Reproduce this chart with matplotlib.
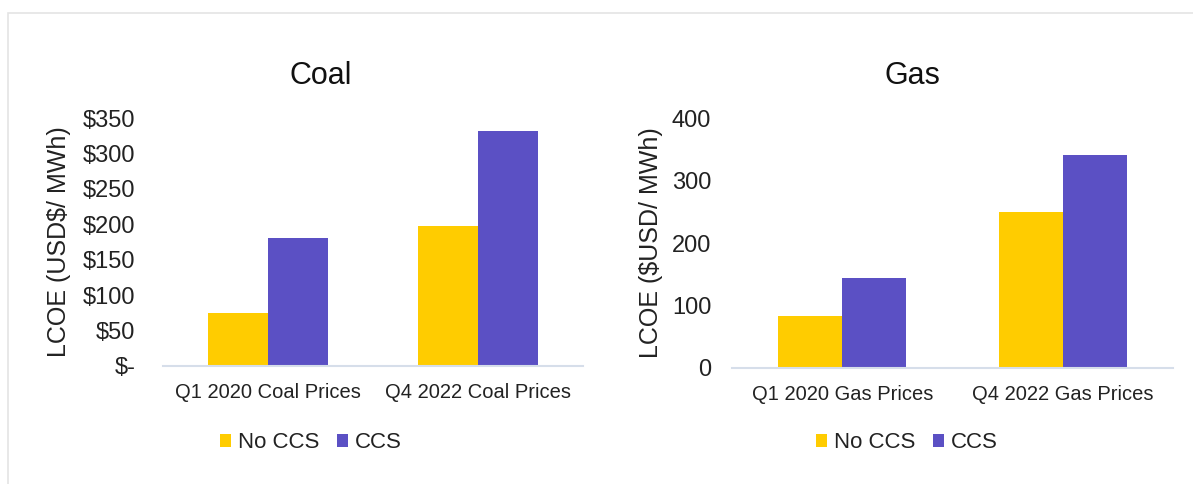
import numpy as np
import matplotlib.pyplot as plt
from matplotlib.patches import Rectangle

plt.rcParams['font.family'] = ['Liberation Sans', 'DejaVu Sans']

series = ['No CCS', 'CCS']
coal_cats = ['Q1 2020 Coal Prices', 'Q4 2022 Coal Prices']
coal_no_ccs = [75, 198]
coal_ccs = [180, 332]
gas_cats = ['Q1 2020 Gas Prices', 'Q4 2022 Gas Prices']
gas_no_ccs = [83, 250]
gas_ccs = [144, 341]
coal_ticks = [0, 50, 100, 150, 200, 250, 300, 350]
coal_tick_labels = ['$-', '$50', '$100', '$150', '$200', '$250', '$300', '$350']
gas_ticks = [0, 100, 200, 300, 400]

yellow = '#FFCC00'
purple = '#5B50C4'
axis_col = '#D6DEEA'
text_col = '#222222'

W, H = 1193, 484
fig = plt.figure(figsize=(W / 100, H / 100), dpi=100)

# light frame like the screenshot
fig.patches.append(Rectangle((8 / W, -0.1), 1.1, 1 - 13 / H + 0.1, transform=fig.transFigure,
                             fill=False, edgecolor='#E4E4E4', linewidth=1.2))


def draw_panel(rect, cats, no_ccs, ccs, ymax, ticks, tick_labels, ylabel, title, bw,
               ypad, ylab_x, title_x, legend_x):
    ax = fig.add_axes(rect)
    x = np.arange(len(cats))
    ax.bar(x - bw / 2, no_ccs, bw, color=yellow, label=series[0], zorder=2)
    ax.bar(x + bw / 2, ccs, bw, color=purple, label=series[1], zorder=2)
    ax.set_xlim(-0.5, len(cats) - 0.5)
    ax.set_ylim(0, ymax)
    ax.set_yticks(ticks)
    ax.set_yticklabels(tick_labels, fontsize=17, color=text_col)
    ax.set_xticks(x)
    ax.set_xticklabels(cats, fontsize=14.5, color=text_col)
    ax.tick_params(length=0, axis='y', pad=ypad)
    ax.tick_params(length=0, axis='x', pad=12)
    for s in ['top', 'right', 'left']:
        ax.spines[s].set_visible(False)
    ax.spines['bottom'].set_color(axis_col)
    ax.spines['bottom'].set_linewidth(1.5)
    ax.set_ylabel(ylabel, fontsize=18, color=text_col)
    ax.yaxis.set_label_coords(ylab_x, 0.5)
    fig.text(title_x / W, 1 - 76 / H, title, fontsize=22, color='#111111',
             ha='center', va='center')
    ax.legend(loc='center', bbox_to_anchor=(legend_x / W, 1 - 443 / H), bbox_transform=fig.transFigure,
              ncol=2, frameon=False, fontsize=16, handlelength=0.5, handleheight=0.5,
              handletextpad=0.3, columnspacing=0.8, labelcolor=text_col)
    return ax


ax1 = draw_panel([163 / W, 1 - 366 / H, 420 / W, (366 - 118) / H], coal_cats, coal_no_ccs, coal_ccs,
                 350, coal_ticks, coal_tick_labels, 'LCOE (USD$/ MWh)', 'Coal', 0.286,
                 20, -0.219, 321, 311)
ax2 = draw_panel([732 / W, 1 - 368 / H, 441 / W, (368 - 118) / H], gas_cats, gas_no_ccs, gas_ccs,
                 400, gas_ticks, [str(t) for t in gas_ticks], 'LCOE ($USD/ MWh)', 'Gas', 0.29,
                 15, -0.156, 912, 907)

fig.savefig('out.png', dpi=100)
